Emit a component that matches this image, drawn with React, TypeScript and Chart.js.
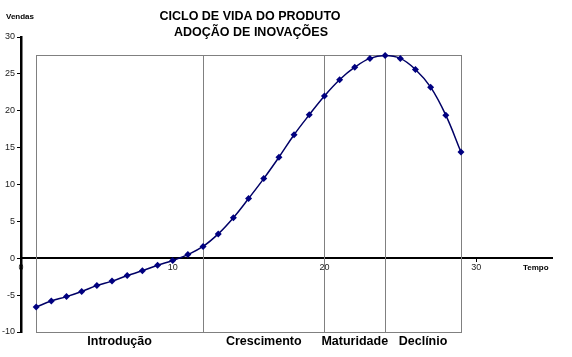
import React, { useEffect, useRef } from "react";
import { Chart, registerables } from "chart.js";

Chart.register(...registerables);

const periods = [1, 2, 3, 4, 5, 6, 7, 8, 9, 10, 11, 12, 13, 14, 15, 16, 17, 18, 19, 20, 21, 22, 23, 24, 25, 26, 27, 28, 29];
const sales = [-6.6, -5.8, -5.2, -4.5, -3.7, -3.1, -2.35, -1.7, -0.95, -0.3, 0.5, 1.6, 3.3, 5.5, 8.1, 10.8, 13.7, 16.75, 19.45, 22.0, 24.2, 25.9, 27.1, 27.5, 27.1, 25.6, 23.2, 19.4, 14.4];
const xTickValues = [0, 10, 20, 30];
const phaseBounds = [1, 12, 20, 24, 29];
const phaseNames = ["Introdução", "Crescimento", "Maturidade", "Declínio"];
const boxTop = 27.5;
const boxBottom = -10;
const titleLines = ["CICLO DE VIDA DO PRODUTO", "ADOÇÃO DE INOVAÇÕES"];
const yAxisTitle = "Vendas";
const xAxisTitle = "Tempo";

const FONT = "'Liberation Sans', Arial, sans-serif";

const decorPlugin = {
  id: "decor",
  beforeDatasetsDraw(chart: any) {
    const { ctx, scales } = chart;
    const x = scales.x;
    const y = scales.y;
    ctx.save();
    ctx.strokeStyle = "#808080";
    ctx.lineWidth = 1;
    const left = Math.round(x.getPixelForValue(phaseBounds[0])) + 0.5;
    const right = Math.round(x.getPixelForValue(phaseBounds[phaseBounds.length - 1])) + 0.5;
    const top = Math.round(y.getPixelForValue(boxTop)) + 0.5;
    const bottom = Math.round(y.getPixelForValue(boxBottom)) + 0.5;
    ctx.strokeRect(left, top, right - left, bottom - top);
    ctx.beginPath();
    for (let i = 1; i < phaseBounds.length - 1; i++) {
      const px = Math.round(x.getPixelForValue(phaseBounds[i])) + 0.5;
      ctx.moveTo(px, top);
      ctx.lineTo(px, bottom);
    }
    ctx.stroke();
    ctx.restore();
  },
  afterDraw(chart: any) {
    const { ctx, scales } = chart;
    const x = scales.x;
    const y = scales.y;
    ctx.save();
    ctx.fillStyle = "#000";
    ctx.textAlign = "center";
    ctx.textBaseline = "middle";
    ctx.font = `bold 12.5px ${FONT}`;
    ctx.fillText(titleLines[0], 250, 17);
    ctx.fillText(titleLines[1], 251, 33);
    const bottom = y.getPixelForValue(boxBottom);
    for (let i = 0; i < phaseNames.length; i++) {
      const cx = (x.getPixelForValue(phaseBounds[i]) + x.getPixelForValue(phaseBounds[i + 1])) / 2;
      ctx.fillText(phaseNames[i], cx, bottom + 10);
    }
    ctx.font = `bold 8px ${FONT}`;
    ctx.textAlign = "left";
    ctx.fillText(yAxisTitle, 6, 17);
    ctx.fillText(xAxisTitle, 523, y.getPixelForValue(0) + 10);
    ctx.restore();
  },
};

export default function App() {
  const ref = useRef<HTMLCanvasElement>(null);
  useEffect(() => {
    if (!ref.current) return;
    const chart = new Chart(ref.current, {
      type: "line",
      data: {
        datasets: [
          {
            data: periods.map((p, i) => ({ x: p, y: sales[i] })),
            borderColor: "#000066",
            backgroundColor: "#000080",
            borderWidth: 1.5,
            pointStyle: "rectRot",
            pointRadius: 3.5,
            pointBorderWidth: 0,
            pointBackgroundColor: "#000080",
            tension: 0.4,
            fill: false,
          },
        ],
      },
      options: {
        animation: false,
        responsive: true,
        maintainAspectRatio: false,
        layout: { padding: { left: 0, right: 20, top: 37, bottom: 25 } },
        plugins: { legend: { display: false }, title: { display: false }, tooltip: { enabled: false } },
        scales: {
          x: {
            type: "linear",
            min: 0,
            max: 35,
            position: { y: 0 } as any,
            border: { color: "#000", width: 2 },
            grid: { drawOnChartArea: false, drawTicks: true, tickLength: 3, color: "#000" },
            afterBuildTicks: (scale: any) => {
              scale.ticks = xTickValues.map((v) => ({ value: v }));
            },
            ticks: { font: { size: 9, family: FONT }, color: "#222", maxRotation: 0, padding: 1 },
          },
          y: {
            type: "linear",
            min: -10,
            max: 30,
            position: "left",
            afterFit: (scale: any) => {
              scale.width = 21;
            },
            border: { color: "#000", width: 2.5 },
            grid: { drawOnChartArea: false, drawTicks: true, tickLength: 4, color: "#000" },
            ticks: { stepSize: 5, font: { size: 9, family: FONT }, color: "#222", padding: 2 },
          },
        },
      },
      plugins: [decorPlugin],
    });
    return () => chart.destroy();
  }, []);
  return (
    <div style={{ position: "absolute", left: 0, top: 0, width: 572, height: 357, background: "#fff" }}>
      <canvas ref={ref} />
    </div>
  );
}
